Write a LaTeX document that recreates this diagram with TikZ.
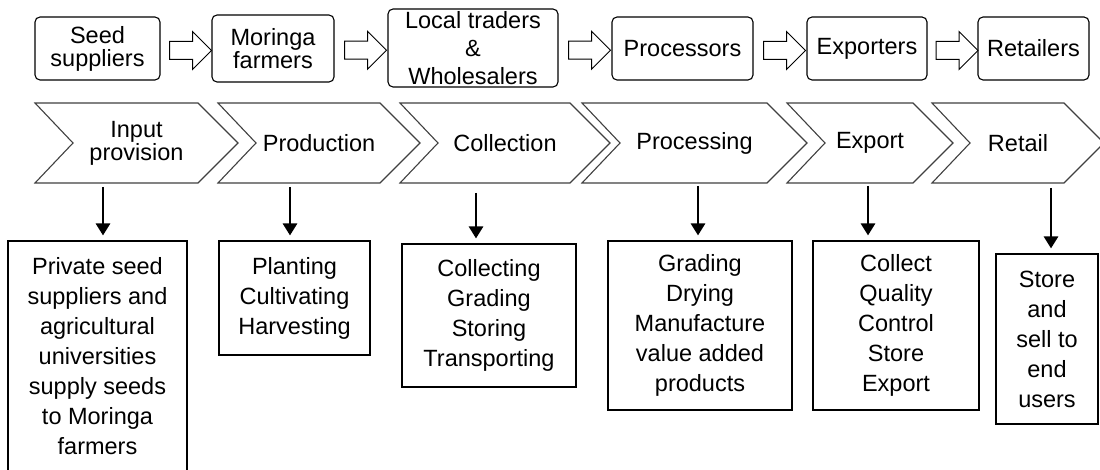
\documentclass[tikz,border=0pt]{standalone}
\usepackage{fontspec}
\setmainfont{Liberation Sans}
\usetikzlibrary{shapes.arrows,arrows.meta,calc,positioning}

\begin{document}
\begin{tikzpicture}[
  x=1pt, y=-1pt,
  actor/.style={
    draw,
    line width=1.1pt,
    rounded corners=5pt,
    align=center,
    inner sep=0pt,
    font=\fontsize{23.5}{23}\selectfont
    },
  flowarrow/.style={
    draw,
    line width=1pt,
    fill=white,
    single arrow,
    single arrow head extend=10pt,
    minimum height=42pt,
    inner sep=8.5pt
    },
  stage/.style={draw=black!75, fill=white, line width=1.1pt},
  stagetext/.style={align=center, font=\fontsize{23.5}{23}\selectfont},
  task/.style={
    draw,
    line width=1.1pt,
    align=center,
    inner sep=0pt,
    font=\fontsize{23.5}{30}\selectfont
    },
  down/.style={line width=2.8pt, shorten >=5pt, -{Triangle[width=14pt,length=12pt]}}
]
\useasboundingbox (0,0) rectangle (1100,470);

% actors
\node[actor, minimum width=125pt, minimum height=63pt] (seed) at (97.5,48.5) {Seed\\suppliers};
\node[actor, minimum width=122pt, minimum height=67pt] (farmers) at (273,48.5) {Moringa\\farmers};
\node[actor, minimum width=170pt, minimum height=78pt, font=\fontsize{23.5}{28}\selectfont] (traders) at (473,48) {Local traders\\\&\\Wholesalers};
\node[actor, minimum width=141pt, minimum height=63pt] (processors) at (682.5,48.5) {Processors};
\node[actor, minimum width=120pt, minimum height=63pt] (exporters) at (867,48.5) {Exporters};
\node[actor, minimum width=111pt, minimum height=63pt] (retailers) at (1033.5,48.5) {Retailers};

\foreach \a/\b [count=\i] in {seed/farmers, farmers/traders, traders/processors, processors/exporters, exporters/retailers}
  \node[flowarrow] (flow\i) at ($(\a.east)!.5!(\b.west) + (0,2)$) {};

% stages
\foreach \l/\r/\txt [count=\i] in {35/238/{Input\\provision}, 218/420/Production, 400/610/Collection, 582/807/Processing, 787/953/Export, 932/1104/Retail}
{
  \draw[stage] (\l,103) -- ({\r-40},103) -- (\r,143) -- ({\r-40},183) -- (\l,183) -- ({\l+38},143) -- cycle;
  \node[stagetext] (stage\i) at ({(\l+\r)/2},143) {\txt};
}

% activities
\node[task, minimum width=179pt, minimum height=231pt] (task1) at (97.5,356.5)
  {Private seed\\suppliers and\\agricultural\\universities\\supply seeds\\to Moringa\\farmers};
\node[task, minimum width=151pt, minimum height=114pt] (task2) at (294.5,298)
  {Planting\\Cultivating\\Harvesting};
\node[task, minimum width=174pt, minimum height=143pt] (task3) at (489,315.5)
  {Collecting\\Grading\\Storing\\Transporting};
\node[task, minimum width=184pt, minimum height=169pt] (task4) at (700,325.5)
  {Grading\\Drying\\Manufacture\\value added\\products};
\node[task, minimum width=166pt, minimum height=169pt] (task5) at (896,325.5)
  {Collect\\Quality\\Control\\Store\\Export};
\node[task, minimum width=102pt, minimum height=170pt] (task6) at (1047,339)
  {Store\\and\\sell to\\end\\users};

\foreach \x/\y [count=\i] in {103/187, 290/187, 476/193, 698/186, 868/186, 1051/188}
  \coordinate (top\i) at (\x,\y);
\foreach \i in {1,...,6}
  \draw[down] (top\i) -- (top\i |- task\i.north);

\end{tikzpicture}
\end{document}
